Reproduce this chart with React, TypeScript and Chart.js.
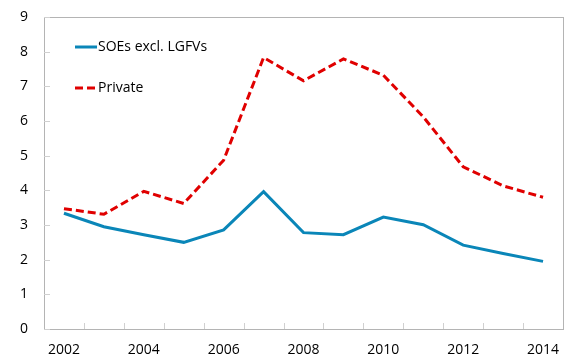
import React, { useEffect, useRef } from "react";
import { Chart, registerables } from "chart.js";

Chart.register(...registerables);

const years = ["2002","2003","2004","2005","2006","2007","2008","2009","2010","2011","2012","2013","2014"];
const soes = [3.34, 2.95, 2.72, 2.5, 2.86, 3.96, 2.78, 2.72, 3.23, 3.01, 2.42, 2.18, 1.95];
const priv = [3.47, 3.31, 3.97, 3.62, 4.87, 7.83, 7.16, 7.79, 7.32, 6.12, 4.68, 4.13, 3.8];
const yTicks = [0, 1, 2, 3, 4, 5, 6, 7, 8, 9];

const FONT = "'Open Sans', sans-serif";
const AXIS = "#b4b4b4";

const framePlugin = {
  id: "frame",
  afterDraw(chart: any) {
    const { ctx, chartArea: a, scales } = chart;
    ctx.save();
    ctx.strokeStyle = AXIS;
    ctx.lineWidth = 1;
    ctx.strokeRect(Math.round(a.left) + 0.5, Math.round(a.top) + 0.5, Math.round(a.right - a.left), Math.round(a.bottom - a.top));
    const y = scales.y;
    ctx.strokeStyle = "#d0d0d0";
    yTicks.forEach((v) => {
      const py = Math.round(y.getPixelForValue(v)) + 0.5;
      ctx.beginPath();
      ctx.moveTo(a.left, py);
      ctx.lineTo(a.left + 6, py);
      ctx.stroke();
    });
    const x = scales.x;
    for (let i = 1; i < years.length; i++) {
      const px = Math.round((x.getPixelForTick(i - 1) + x.getPixelForTick(i)) / 2) + 0.5;
      ctx.beginPath();
      ctx.moveTo(px, a.bottom);
      ctx.lineTo(px, a.bottom - 6);
      ctx.stroke();
    }
    // legend
    const items = chart.data.datasets;
    const rows = [47, 88];
    items.forEach((ds: any, i: number) => {
      const ly = rows[i];
      ctx.strokeStyle = ds.borderColor;
      ctx.lineWidth = 3;
      ctx.setLineDash(ds.borderDash || []);
      ctx.beginPath();
      ctx.moveTo(75, ly);
      ctx.lineTo(97, ly);
      ctx.stroke();
      ctx.setLineDash([]);
      ctx.fillStyle = "#000";
      ctx.font = `14px ${FONT}`;
      ctx.textBaseline = "middle";
      ctx.textAlign = "left";
      ctx.fillText(ds.label, 98, ly);
    });
    ctx.restore();
  },
};

export default function App() {
  const ref = useRef<HTMLCanvasElement>(null);
  useEffect(() => {
    document.body.style.margin = "0";
    const chart = new Chart(ref.current!, {
      type: "line",
      data: {
        labels: years,
        datasets: [
          { label: "SOEs excl. LGFVs", data: soes, borderColor: "#0a86b8", borderWidth: 3, pointRadius: 0, tension: 0, fill: false },
          { label: "Private", data: priv, borderColor: "#e00000", borderWidth: 3, borderDash: [8, 4], pointRadius: 0, tension: 0, fill: false },
        ],
      },
      options: {
        animation: false,
        responsive: false,
        layout: { padding: { top: 17, right: 6, left: 0, bottom: 0 } },
        plugins: { legend: { display: false }, tooltip: { enabled: false } },
        scales: {
          x: {
            offset: true,
            grid: { display: false, drawTicks: false },
            border: { display: false },
            ticks: {
              autoSkip: false,
              maxRotation: 0,
              padding: 13,
              color: "#000",
              font: { family: FONT, size: 14 },
              callback: (_v: any, i: number) => (i % 2 === 0 ? years[i] : ""),
            },
            afterFit: (s: any) => { s.height = 31; s.paddingLeft = 0; s.paddingRight = 0; },
          },
          y: {
            min: 0,
            max: 9,
            grid: { display: false, drawTicks: false },
            border: { display: false },
            afterBuildTicks: (s: any) => { s.ticks = yTicks.map((v) => ({ value: v })); },
            ticks: { padding: 16, color: "#000", font: { family: FONT, size: 14 } },
            afterFit: (s: any) => { s.width = 44; s.paddingTop = 0; s.paddingBottom = 0; },
          },
        },
      },
      plugins: [framePlugin],
    });
    return () => chart.destroy();
  }, []);
  return <canvas ref={ref} width={569} height={360} style={{ display: "block" }} />;
}
